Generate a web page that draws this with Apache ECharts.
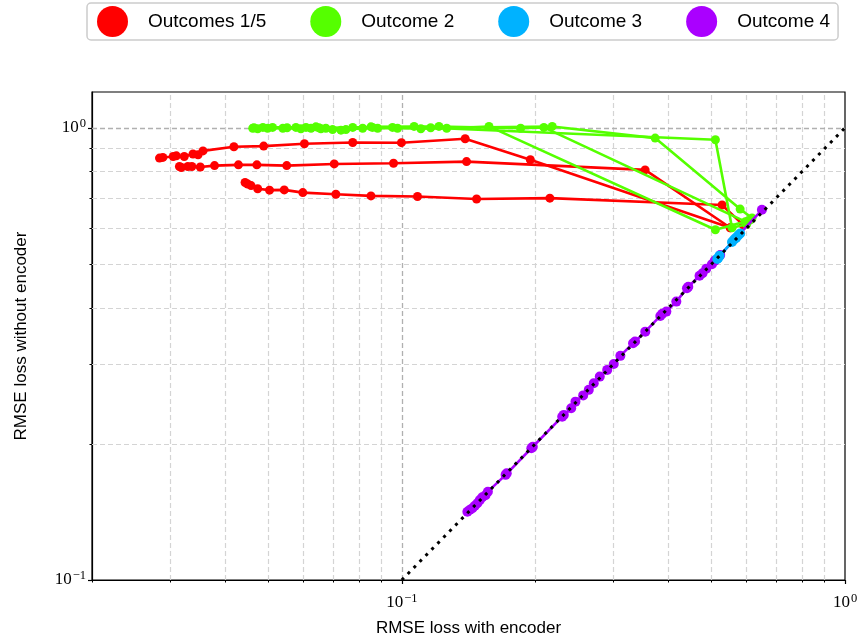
<!DOCTYPE html>
<html>
<head>
<meta charset="utf-8">
<script src="https://cdn.jsdelivr.net/npm/echarts@6/dist/echarts.min.js"></script>
<style>
  html, body { margin: 0; padding: 0; background: #fff; }
  #chart { width: 860px; height: 638px; }
</style>
</head>
<body>
<div id="chart"></div>
<script>
// values: x = RMSE with encoder, y = RMSE without encoder
const redAX = [0.0284, 0.0289, 0.0305, 0.0310, 0.0323, 0.0338, 0.0347, 0.0356, 0.0418, 0.0488, 0.0603, 0.0775, 0.0998, 0.139, 0.195, 0.551];
const redAY = [0.857, 0.860, 0.864, 0.867, 0.864, 0.875, 0.872, 0.889, 0.908, 0.911, 0.922, 0.928, 0.927, 0.946, 0.850, 0.601];
const redBX = [0.0315, 0.0318, 0.0329, 0.0336, 0.0351, 0.0378, 0.0428, 0.0471, 0.0550, 0.0704, 0.0958, 0.140, 0.354, 0.551];
const redBY = [0.821, 0.817, 0.821, 0.821, 0.819, 0.825, 0.828, 0.828, 0.825, 0.832, 0.835, 0.842, 0.807, 0.601];
const redCX = [0.0443, 0.0449, 0.0457, 0.0473, 0.0503, 0.0543, 0.0598, 0.0710, 0.0852, 0.1085, 0.1475, 0.2158, 0.528, 0.589];
const redCY = [0.757, 0.751, 0.745, 0.733, 0.728, 0.729, 0.719, 0.713, 0.707, 0.705, 0.696, 0.699, 0.675, 0.610];

const greenAX = [0.0461, 0.0486, 0.0539, 0.0592, 0.0640, 0.0698, 0.0775, 0.0953, 0.1104, 0.1263, 0.1573, 0.510, 0.605];
const greenAY = [0.998, 1.002, 0.998, 0.995, 1.005, 0.991, 1.002, 1.002, 0.995, 0.998, 1.007, 0.595, 0.623];
const greenBX = [0.0473, 0.0511, 0.0577, 0.0624, 0.0674, 0.0748, 0.0852, 0.1066, 0.1213, 0.1854, 0.2092, 0.596];
const greenBY = [0.995, 1.002, 1.002, 0.998, 0.998, 0.991, 1.005, 1.007, 1.007, 0.998, 1.002, 0.620];
const greenCX = [0.0498, 0.0608, 0.0657, 0.0729, 0.0816, 0.0882, 0.0978, 0.2185, 0.373, 0.580, 0.617];
const greenCY = [0.998, 1.002, 0.995, 0.988, 0.998, 0.998, 0.998, 1.007, 0.949, 0.661, 0.632];
const greenDX = [0.0464, 0.0551, 0.0650, 0.0859, 0.1162, 0.510, 0.556, 0.600, 0.612];
const greenDY = [1.000, 1.000, 1.000, 1.002, 1.000, 0.941, 0.601, 0.612, 0.626];

const blueX = [0.515, 0.518, 0.521, 0.556, 0.562, 0.568, 0.574, 0.580];
const blueY = [0.513, 0.516, 0.521, 0.559, 0.566, 0.571, 0.578, 0.584];

const purpleX = [0.1406, 0.1425, 0.1443, 0.1462, 0.1481, 0.1500, 0.1519, 0.1545, 0.1564, 0.1715, 0.1725, 0.1960, 0.1975, 0.2301, 0.2320, 0.2411, 0.2465, 0.2566, 0.2642, 0.2711, 0.2797, 0.2907, 0.3008, 0.3113, 0.3325, 0.3360, 0.3543, 0.3831, 0.3870, 0.3953, 0.4163, 0.4400, 0.4430, 0.4697, 0.4770, 0.4863, 0.5009, 0.5085, 0.5229, 0.6494];
const purpleY = [0.1416, 0.1430, 0.1441, 0.1460, 0.1478, 0.1502, 0.1524, 0.1540, 0.1568, 0.1708, 0.1722, 0.1956, 0.1970, 0.2297, 0.2318, 0.2398, 0.2480, 0.2560, 0.2633, 0.2723, 0.2817, 0.2915, 0.3005, 0.3131, 0.3340, 0.3367, 0.3542, 0.3837, 0.3880, 0.3922, 0.4127, 0.4417, 0.4450, 0.4710, 0.4770, 0.4880, 0.4990, 0.5085, 0.5230, 0.6587];

const diagX = [0.1, 1];
const diagY = [0.1, 1];

const xMinor = [0.02, 0.03, 0.04, 0.05, 0.06, 0.07, 0.08, 0.09, 0.2, 0.3, 0.4, 0.5, 0.6, 0.7, 0.8, 0.9];
const yMinor = [0.2, 0.3, 0.4, 0.5, 0.6, 0.7, 0.8, 0.9];
const xMajor = [0.1, 1];
const yMajor = [0.1, 1];

const xMin = 0.02, xMax = 1, yMin = 0.1, yMax = 1.2;

const RED = "#ff0000", GREEN = "#55ff00", BLUE = "#00b2ff", PURPLE = "#aa00ff";

const zip = (xs, ys) => xs.map((x, i) => [x, ys[i]]);
const lg = (v) => Math.log10(v);

const chart = echarts.init(document.getElementById("chart"));

const traj = (name, color, xs, ys, z, size) => ({
  name,
  type: "line",
  data: zip(xs, ys),
  z,
  symbol: "circle",
  symbolSize: size || 9,
  showSymbol: true,
  itemStyle: { color },
  lineStyle: { color, width: 2.6 },
  emphasis: { disabled: true },
  silent: true,
});

const gridLines = [
  ...xMinor.slice(1).map((v) => ({ xAxis: v })),
  ...yMinor.map((v) => ({ yAxis: v })),
  { xAxis: xMajor[0], lineStyle: { color: "#b0b0b0", width: 1.3 } },
  { yAxis: yMajor[1], lineStyle: { color: "#b0b0b0", width: 1.3 } },
];

const supLabel = (v) => "{b|10}{s|" + (Math.round(v) < 0 ? "\u22121" : "0") + "}";
const richTick = {
  b: { fontFamily: "Liberation Serif", fontSize: 17, color: "#000" },
  s: { fontFamily: "Liberation Serif", fontSize: 12.5, color: "#000", verticalAlign: "top", padding: [0, 0, 8, 1] },
};

// extra value axes in log10 space, used only for tick marks and tick labels
const tickAxis = (min, max, position, values, len, width, label) => ({
  type: "value", min, max, position,
  axisLine: { show: false, onZero: false },
  splitLine: { show: false },
  axisTick: { show: true, length: len, customValues: values, lineStyle: { color: "#000", width } },
  axisLabel: label || { show: false },
});

const option = {
  animation: false,
  backgroundColor: "#fff",
  textStyle: { fontFamily: "Liberation Sans" },
  legend: {
    data: ["Outcomes 1/5", "Outcome 2", "Outcome 3", "Outcome 4"],
    left: 87,
    top: 3,
    padding: [3, 8, 3, 10],
    itemWidth: 31,
    itemHeight: 31,
    itemGap: 44,
    icon: "circle",
    borderColor: "#cccccc",
    borderWidth: 1.5,
    borderRadius: 4,
    textStyle: { fontFamily: "Liberation Sans", fontSize: 19, color: "#000", padding: [0, 0, 0, 15] },
    selectedMode: false,
  },
  grid: {
    left: 92, right: 15, top: 92, bottom: 58,
    outerBoundsMode: "none", containLabel: false,
    show: true, borderColor: "#000", borderWidth: 1.2, backgroundColor: "transparent",
  },
  xAxis: [
    {
      type: "log", logBase: 10, min: xMin, max: xMax,
      name: "RMSE loss with encoder", nameLocation: "middle", nameGap: 40,
      nameTextStyle: { fontFamily: "Liberation Sans", fontSize: 17, color: "#000" },
      axisLine: { show: true, onZero: false, lineStyle: { color: "#000", width: 1.2 } },
      axisTick: { show: false }, axisLabel: { show: false }, splitLine: { show: false },
    },
    tickAxis(lg(xMin), lg(xMax), "bottom", xMinor.map(lg), 2.5, 1),
    tickAxis(lg(xMin), lg(xMax), "bottom", xMajor.map(lg), 4, 1.2, {
      show: true, margin: 12, customValues: xMajor.map(lg), showMinLabel: true, showMaxLabel: true,
      formatter: supLabel, rich: richTick,
    }),
  ],
  yAxis: [
    {
      type: "log", logBase: 10, min: yMin, max: yMax,
      name: "RMSE loss without encoder", nameLocation: "middle", nameGap: 62,
      nameTextStyle: { fontFamily: "Liberation Sans", fontSize: 17, color: "#000" },
      axisLine: { show: true, onZero: false, lineStyle: { color: "#000", width: 1.2 } },
      axisTick: { show: false }, axisLabel: { show: false }, splitLine: { show: false },
    },
    tickAxis(lg(yMin), lg(yMax), "left", yMinor.map(lg), 2.5, 1),
    tickAxis(lg(yMin), lg(yMax), "left", yMajor.map(lg), 4, 1.2, {
      show: true, margin: 6, customValues: yMajor.map(lg), showMinLabel: true, showMaxLabel: true,
      formatter: supLabel, rich: richTick,
    }),
  ],
  series: [
    {
      name: "grid", type: "line", data: [[0.5, 0.5]], z: 1, silent: true,
      symbol: "none", lineStyle: { opacity: 0 },
      markLine: {
        z: 1, silent: true, symbol: ["none", "none"], label: { show: false }, animation: false,
        lineStyle: { color: "#d4d4d4", width: 1.2, type: [5, 3] },
        emphasis: { disabled: true },
        data: gridLines,
      },
    },
    traj("Outcomes 1/5", RED, redAX, redAY, 2),
    traj("Outcomes 1/5", RED, redBX, redBY, 2),
    traj("Outcomes 1/5", RED, redCX, redCY, 2),
    traj("Outcome 2", GREEN, greenAX, greenAY, 3),
    traj("Outcome 2", GREEN, greenBX, greenBY, 3),
    traj("Outcome 2", GREEN, greenCX, greenCY, 3),
    traj("Outcome 2", GREEN, greenDX, greenDY, 3),
    traj("Outcome 4", PURPLE, purpleX, purpleY, 4, 10),
    traj("Outcome 3", BLUE, blueX, blueY, 5, 10),
    {
      name: "y = x", type: "line", data: zip(diagX, diagY), z: 10, silent: true,
      symbol: "none",
      lineStyle: { color: "#000", width: 3, type: [3, 5.5], cap: "butt" },
    },
  ],
};

chart.setOption(option);
</script>
</body>
</html>
